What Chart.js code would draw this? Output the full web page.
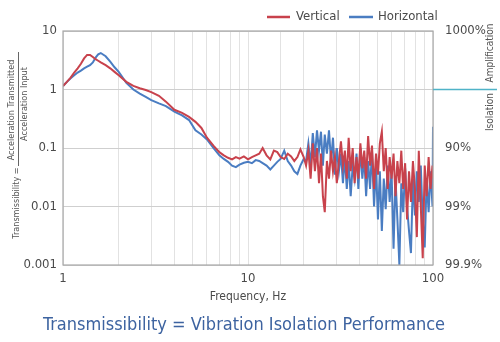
<!DOCTYPE html>
<html>
<head>
<meta charset="utf-8">
<script src="https://cdn.jsdelivr.net/npm/chart.js@4.4.1/dist/chart.umd.min.js"></script>
<style>
  html, body { margin: 0; padding: 0; background: #fff; }
  #wrap { position: relative; width: 500px; height: 342px; }
</style>
</head>
<body>
<div id="wrap"><canvas id="chart" width="500" height="342"></canvas></div>
<script>
// Frequencies (Hz) shared by both measured series
const freqs = [
  1, 1.05, 1.1, 1.15, 1.2, 1.25, 1.3, 1.35, 1.4, 1.45,
  1.5, 1.55, 1.6, 1.7, 1.8, 1.9, 2.0, 2.2, 2.4, 2.6,
  2.8, 3.0, 3.3, 3.6, 4.0, 4.4, 4.8, 5.2, 5.6, 6.0,
  6.5, 7.0,
  7.4, 7.8, 8.2, 8.6, 9.0, 9.5, 10, 10.5, 11, 11.5,
  12, 12.6, 13.2, 13.8, 14.4, 15, 15.7, 16.4, 17.1, 17.8,
  18.5, 19.2, 20,
  20.6, 21.2, 21.8, 22.4, 23, 23.6, 24.2, 24.8, 25.4, 26,
  26.7, 27.4, 28.1, 28.8, 29.5, 30.2, 31, 31.8, 32.6, 33.4,
  34.2, 35, 35.9, 36.8, 37.7, 38.6, 39.5, 40.5, 41.5, 42.5,
  43.5, 44.6, 45.7, 46.8, 48, 49.2, 50.4, 51.6, 52.9, 54.2,
  55.5, 56.9, 58.3, 59.7, 61.2, 62.7, 64.2, 65.8, 67.4, 69,
  70.7, 72.4, 74.2, 76, 77.9, 79.8, 81.8, 83.8, 85.9, 88,
  90.2, 92.4, 94.7, 97, 99.4, 100
];

// Transmissibility, vertical direction
const vertical = [
  1.15, 1.35, 1.6, 1.95, 2.3, 2.75, 3.4, 3.9, 3.9, 3.6,
  3.3, 3.1, 2.9, 2.6, 2.3, 2.0, 1.75, 1.35, 1.15, 1.05,
  0.98, 0.9, 0.78, 0.62, 0.45, 0.4, 0.34, 0.28, 0.22, 0.15,
  0.11, 0.085,
  0.075, 0.068, 0.064, 0.07, 0.066, 0.072, 0.064, 0.07, 0.075, 0.08,
  0.1, 0.075, 0.064, 0.09, 0.085, 0.07, 0.065, 0.08, 0.072, 0.06,
  0.07, 0.095, 0.07,
  0.05, 0.09, 0.03, 0.12, 0.04, 0.1, 0.025, 0.08, 0.015, 0.008,
  0.06, 0.03, 0.09, 0.04, 0.07, 0.025, 0.06, 0.13, 0.05, 0.09,
  0.03, 0.15, 0.04, 0.1, 0.025, 0.07, 0.03, 0.12, 0.045, 0.09,
  0.03, 0.16, 0.05, 0.11, 0.02, 0.08, 0.035, 0.12, 0.19, 0.04,
  0.1, 0.02, 0.07, 0.03, 0.08, 0.015, 0.06, 0.025, 0.09, 0.02,
  0.055, 0.006, 0.04, 0.012, 0.06, 0.02, 0.003, 0.09, 0.01, 0.0013,
  0.05, 0.015, 0.07, 0.02, 0.05, 0.03
];

// Transmissibility, horizontal direction
const horizontal = [
  1.15, 1.35, 1.55, 1.75, 1.95, 2.1, 2.3, 2.45, 2.6, 2.9,
  3.5, 4.0, 4.2, 3.7, 3.0, 2.4, 2.0, 1.3, 1.0, 0.85,
  0.75, 0.66, 0.58, 0.52, 0.42, 0.36, 0.3, 0.2, 0.17, 0.14,
  0.1, 0.075,
  0.065, 0.058, 0.05, 0.047, 0.052, 0.056, 0.058, 0.055, 0.062, 0.06,
  0.055, 0.05, 0.043, 0.05, 0.058, 0.065, 0.09, 0.06, 0.05, 0.04,
  0.036, 0.05, 0.065,
  0.06, 0.12, 0.05, 0.18, 0.07, 0.2, 0.09, 0.19, 0.05, 0.17,
  0.08, 0.2, 0.06, 0.15, 0.035, 0.1, 0.04, 0.08, 0.025, 0.07,
  0.02, 0.06, 0.015, 0.05, 0.03, 0.08, 0.02, 0.1, 0.03, 0.07,
  0.015, 0.06, 0.02, 0.09, 0.01, 0.05, 0.006, 0.04, 0.0038, 0.03,
  0.009, 0.05, 0.012, 0.04, 0.0019, 0.03, 0.006, 0.001, 0.025, 0.008,
  0.045, 0.01, 0.0038, 0.0016, 0.03, 0.007, 0.04, 0.012, 0.05, 0.006,
  0.002, 0.03, 0.008, 0.04, 0.01, 0.23
];

const yTicks = [0.001, 0.01, 0.1, 1, 10];
const yLabels = ['0.001', '0.01', '0.1', '1', '10'];
const pctTicks = [0.001, 0.01, 0.1, 10];
const pctLabels = ['99.9%', '99%', '90%', '1000%'];
const xLabelled = [1, 10, 100];

const FONT = '"Liberation Sans Narrow", "DejaVu Sans Condensed", Roboto, sans-serif';
const RED = '#c8424c';
const BLUE = '#4a7dc2';
const TEXT = '#4a4a4a';

const toPoints = (vals) => freqs.map((f, i) => ({ x: f, y: vals[i] }));

// extra text, legend, border and the amplification/isolation marker
const decorPlugin = {
  id: 'decor',
  afterDraw(chart) {
    const ctx = chart.ctx;
    const a = chart.chartArea;
    ctx.save();

    ctx.strokeStyle = '#a8a8a8';
    ctx.lineWidth = 1.2;
    ctx.strokeRect(a.left, a.top, a.right - a.left, a.bottom - a.top);

    // legend
    ctx.font = '13px ' + FONT;
    ctx.textBaseline = 'middle';
    ctx.textAlign = 'left';
    const items = [
      { x: 267, w: 23, tx: 296, color: RED, label: chart.data.datasets[0].label },
      { x: 349, w: 24, tx: 378, color: BLUE, label: chart.data.datasets[1].label }
    ];
    items.forEach(it => {
      ctx.strokeStyle = it.color;
      ctx.lineWidth = 2.5;
      ctx.beginPath();
      ctx.moveTo(it.x, 17);
      ctx.lineTo(it.x + it.w, 17);
      ctx.stroke();
      ctx.fillStyle = TEXT;
      ctx.fillText(it.label, it.tx, 17);
    });

    // right side marker at transmissibility = 1
    const y1 = chart.scales.y.getPixelForValue(1);
    ctx.strokeStyle = '#4fb3c8';
    ctx.lineWidth = 1.5;
    ctx.beginPath();
    ctx.moveTo(a.right, y1);
    ctx.lineTo(497, y1);
    ctx.stroke();

    ctx.fillStyle = '#555';
    ctx.font = '10px ' + FONT;
    ctx.textAlign = 'center';
    ctx.save();
    ctx.translate(490, 53);
    ctx.rotate(-Math.PI / 2);
    ctx.fillText('Amplification', 0, 0);
    ctx.restore();
    ctx.save();
    ctx.translate(490, 112);
    ctx.rotate(-Math.PI / 2);
    ctx.fillText('Isolation', 0, 0);
    ctx.restore();

    // left axis title: Transmissibility = Transmitted / Input
    ctx.font = '9px ' + FONT;
    ctx.save();
    ctx.translate(12, 110);
    ctx.rotate(-Math.PI / 2);
    ctx.fillText('Acceleration Transmitted', 0, 0);
    ctx.restore();
    ctx.save();
    ctx.translate(25, 104);
    ctx.rotate(-Math.PI / 2);
    ctx.fillText('Acceleration Input', 0, 0);
    ctx.restore();
    ctx.strokeStyle = '#666';
    ctx.lineWidth = 1;
    ctx.beginPath();
    ctx.moveTo(18.5, 52);
    ctx.lineTo(18.5, 166);
    ctx.stroke();
    ctx.save();
    ctx.translate(17, 203);
    ctx.rotate(-Math.PI / 2);
    ctx.fillText('Transmissibility =', 0, 0);
    ctx.restore();

    // bottom headline
    ctx.fillStyle = '#3d63a0';
    ctx.font = '18px ' + FONT;
    ctx.textAlign = 'center';
    ctx.fillText('Transmissibility = Vibration Isolation Performance', 244, 325);

    ctx.restore();
  }
};

new Chart(document.getElementById('chart'), {
  type: 'line',
  data: {
    datasets: [
      {
        label: 'Vertical',
        data: toPoints(vertical),
        borderColor: RED,
        borderWidth: 2,
        pointRadius: 0,
        tension: 0
      },
      {
        label: 'Horizontal',
        data: toPoints(horizontal),
        borderColor: BLUE,
        borderWidth: 2,
        pointRadius: 0,
        tension: 0
      }
    ]
  },
  options: {
    responsive: false,
    animation: false,
    layout: { padding: { top: 31, left: 0, right: 0, bottom: 38 } },
    plugins: {
      legend: { display: false },
      tooltip: { enabled: false }
    },
    scales: {
      x: {
        type: 'logarithmic',
        min: 1,
        max: 100,
        afterFit: (s) => { s.height = 39; },
        grid: { color: '#e2e2e2', drawTicks: false },
        border: { display: false },
        ticks: {
          padding: 6,
          color: TEXT,
          font: { family: FONT, size: 13 },
          maxRotation: 0,
          autoSkip: false,
          callback: (v) => xLabelled.includes(v) ? String(v) : ''
        },
        title: {
          display: true,
          text: 'Frequency, Hz',
          color: TEXT,
          font: { family: FONT, size: 12 },
          padding: { top: 3, bottom: 0 }
        }
      },
      y: {
        type: 'logarithmic',
        position: 'left',
        min: 0.001,
        max: 10,
        afterFit: (s) => { s.width = 63; },
        afterBuildTicks: (s) => { s.ticks = yTicks.map(v => ({ value: v })); },
        grid: { color: '#cfcfcf', drawTicks: false },
        border: { display: false },
        ticks: {
          padding: 6,
          color: TEXT,
          font: { family: FONT, size: 13 },
          callback: (v) => yLabels[yTicks.indexOf(v)]
        }
      },
      yPct: {
        type: 'logarithmic',
        position: 'right',
        min: 0.001,
        max: 10,
        afterFit: (s) => { s.width = 67; },
        afterBuildTicks: (s) => { s.ticks = pctTicks.map(v => ({ value: v })); },
        grid: { display: false, drawTicks: false },
        border: { display: false },
        ticks: {
          padding: 12,
          color: TEXT,
          font: { family: FONT, size: 13 },
          callback: (v) => pctLabels[pctTicks.indexOf(v)]
        }
      }
    }
  },
  plugins: [decorPlugin]
});
</script>
</body>
</html>
